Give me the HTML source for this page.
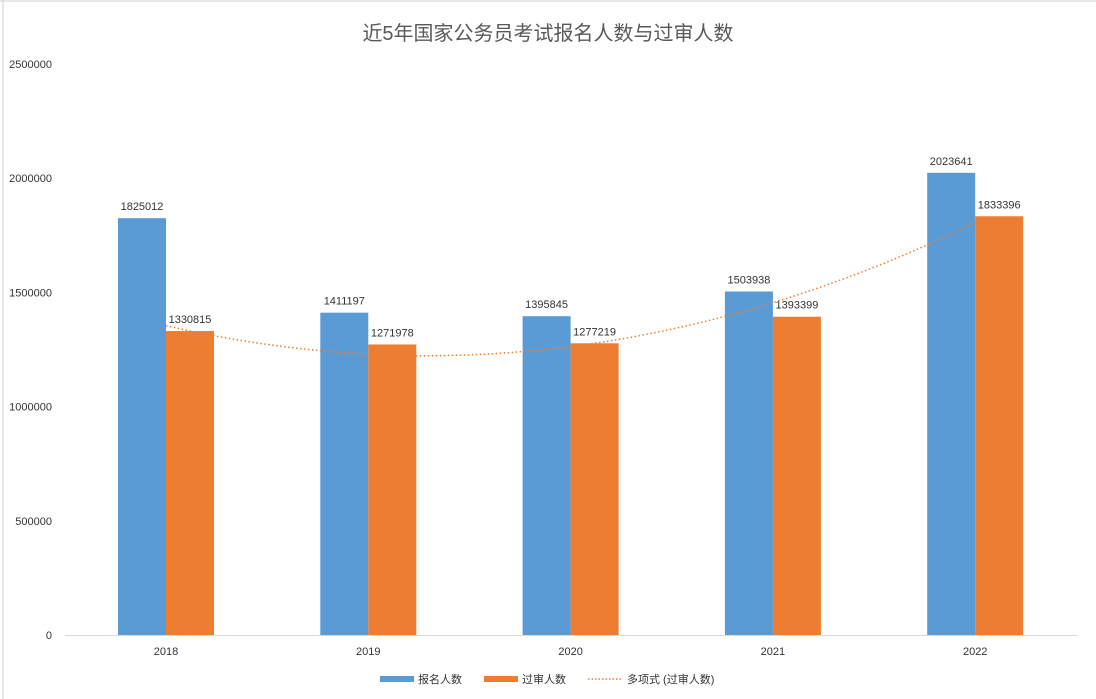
<!DOCTYPE html>
<html><head><meta charset="utf-8"><style>
body{margin:0;background:#fff;}
svg{display:block;font-family:"Liberation Sans","Noto Sans CJK SC",sans-serif;}
</style></head><body>
<svg id="s" width="1096" height="699" viewBox="0 0 1096 699">
<rect x="0" y="0" width="1096" height="699" fill="#fff"/>
<line x1="3" y1="0" x2="3" y2="699" stroke="#d0d0d0"/>
<line x1="0" y1="1" x2="1096" y2="1" stroke="#d0d0d0"/>
<text x="548" y="40" text-anchor="middle" font-size="20" fill="#595959">近5年国家公务员考试报名人数与过审人数</text>
<g id="g" font-size="11" fill="#333"></g>
<line x1="65" y1="635.5" x2="1078" y2="635.5" stroke="#d9d9d9"/>
<g font-size="11" fill="#333">
<rect x="380" y="676" width="34" height="6" fill="#5b9bd5"/><text x="418" y="683">报名人数</text>
<rect x="484" y="676" width="34" height="6" fill="#ed7d31"/><text x="522" y="683">过审人数</text>
<line x1="588" y1="679" x2="622" y2="679" stroke="#ed7d31" stroke-dasharray="1.5,2" stroke-width="1.5"/><text x="627" y="683">多项式 (过审人数)</text>
</g>
</svg>
<script>
var g=document.getElementById('g'),ns='http://www.w3.org/2000/svg';
function el(t,a,txt){var e=document.createElementNS(ns,t);for(var k in a)e.setAttribute(k,a[k]);if(txt)e.textContent=txt;g.appendChild(e);return e;}
function Y(v){return 635-v*571/2500000;}
for(var i=0;i<=5;i++){el('text',{x:52,y:Y(i*500000)+4,'text-anchor':'end'},String(i*500000));}
var yrs=[2018,2019,2020,2021,2022],a=[1825012,1411197,1395845,1503938,2023641],b=[1330815,1271978,1277219,1393399,1833396];
for(var i=0;i<5;i++){var c=166+i*202.3;
el('rect',{x:c-48,y:Y(a[i]),width:48,height:635-Y(a[i]),fill:'#5b9bd5'});
el('rect',{x:c,y:Y(b[i]),width:48,height:635-Y(b[i]),fill:'#ed7d31'});
el('text',{x:c-24,y:Y(a[i])-8,'text-anchor':'middle'},String(a[i]));
el('text',{x:c+24,y:Y(b[i])-8,'text-anchor':'middle'},String(b[i]));
el('text',{x:c,y:655,'text-anchor':'middle'},String(yrs[i]));}
var p=[];for(var t=-2;t<=2.0001;t+=0.05){var v=1421361+112658*t+79186*(t*t-2);p.push((166+(t+2)*202.3).toFixed(1)+','+Y(v).toFixed(1));}
el('polyline',{points:p.join(' '),fill:'none',stroke:'#ed7d31','stroke-width':1.5,'stroke-dasharray':'1.5,2.5'});
</script>
</body></html>
